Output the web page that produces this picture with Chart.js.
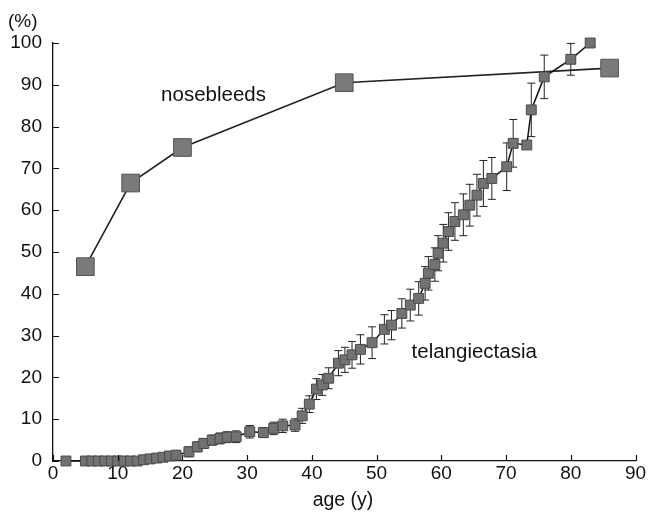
<!DOCTYPE html>
<html><head><meta charset="utf-8">
<script src="https://cdn.jsdelivr.net/npm/chart.js@4.4.0/dist/chart.umd.min.js"></script>
<style>html,body{margin:0;padding:0;background:#fff}</style>
</head><body>
<canvas id="c" width="649" height="513"></canvas>
<script>
// ---- data ----
const xTickValues = [0, 10, 20, 30, 40, 50, 60, 70, 80, 90];
const yTickValues = [0, 10, 20, 30, 40, 50, 60, 70, 80, 90, 100];

const noseAge   = [5, 12, 20, 45, 86];
const noseValue = [46.5, 66.5, 75, 90.5, 94];

const telAge = [2, 5, 6, 7, 8, 9, 10, 11, 12, 13, 14, 15, 16, 17, 18, 19,
  21, 22.3, 23.3, 24.6, 25.8, 26.9, 28.3, 30.4, 32.5, 34.1, 35.5, 37.4, 38.5, 39.6,
  40.7, 41.6, 42.6, 44.1, 45.1, 46.2, 47.5, 49.3, 51.2, 52.3, 53.9, 55.2, 56.5, 57.5,
  58, 59, 59.5, 60.3, 61.1, 62.1, 63.4, 64.4, 65.5, 66.5, 67.8, 70.1, 71.1, 73.2,
  73.9, 75.9, 80, 83];
const telValue = [0, 0, 0, 0, 0, 0, 0, 0, 0, 0, 0.3, 0.5, 0.7, 0.9, 1.2, 1.4,
  2.2, 3.4, 4.2, 5.0, 5.4, 5.7, 5.8, 7.0, 6.8, 7.8, 8.4, 8.6, 10.8, 13.6,
  17.2, 18.2, 19.8, 23.4, 24.2, 25.4, 26.7, 28.3, 31.5, 32.5, 35.3, 37.3, 38.9, 42.5,
  44.9, 47, 49.7, 52.1, 54.9, 57.3, 58.9, 61.2, 63.6, 66.4, 67.6, 70.4, 76, 75.6,
  84, 91.9, 96.1, 100];
const telErr = [0.8, 0.8, 0.8, 0.8, 0.8, 0.8, 0.8, 0.8, 0.8, 0.8, 0.8, 0.8, 0.9, 0.9, 1, 1,
  1.2, 1.2, 1.2, 1.2, 1.3, 1.3, 1.4, 1.5, 1.2, 1.5, 1.6, 1.5, 1.8, 2,
  2.5, 2.5, 2.5, 3, 3, 3.2, 3.5, 3.8, 3.5, 3.5, 3.5, 3.8, 4, 4,
  4, 4, 4.2, 4.5, 4.5, 4.5, 5, 5, 5, 5.5, 5, 5.7, 5.7, 0,
  6.4, 5.2, 3.8, 0];

const yUnitLabel = '(%)';
const xAxisLabel = 'age (y)';
const seriesNames = ['nosebleeds', 'telangiectasia'];
const nameAnchors = [[16.7, 86.2], [55.4, 24.6]]; // data coords of the text labels

// ---- drawing ----
const FONT = '"Liberation Sans", Arial, "Noto Sans CJK JP", sans-serif';
const pts = (xs, ys) => xs.map((v, i) => ({x: v, y: ys[i]}));

const decor = {
  id: 'decor',
  beforeDatasetsDraw(chart) {
    const {ctx, scales: {x, y}} = chart;
    ctx.save();
    ctx.strokeStyle = '#222';
    ctx.lineWidth = 1;
    telAge.forEach((a, i) => {
      const e = telErr[i];
      if (!e) return;
      const px = x.getPixelForValue(a);
      const top = y.getPixelForValue(telValue[i] + e);
      const bot = y.getPixelForValue(Math.max(0, telValue[i] - e));
      ctx.beginPath();
      ctx.moveTo(px, top); ctx.lineTo(px, bot);
      ctx.moveTo(px - 4, top); ctx.lineTo(px + 4, top);
      ctx.moveTo(px - 4, bot); ctx.lineTo(px + 4, bot);
      ctx.stroke();
    });
    ctx.restore();
  },
  afterDraw(chart) {
    const {ctx, scales: {x, y}, chartArea} = chart;
    ctx.save();
    ctx.strokeStyle = '#111';
    ctx.lineWidth = 1.2;
    ctx.beginPath();
    xTickValues.forEach(v => {
      const px = Math.round(x.getPixelForValue(v)) + 0.5;
      ctx.moveTo(px, chartArea.bottom); ctx.lineTo(px, chartArea.bottom - 6);
    });
    yTickValues.forEach(v => {
      const py = Math.round(y.getPixelForValue(v)) + 0.5;
      ctx.moveTo(chartArea.left, py); ctx.lineTo(chartArea.left + 6, py);
    });
    ctx.stroke();
    ctx.fillStyle = '#111';
    ctx.font = '19px ' + FONT;
    ctx.textBaseline = 'alphabetic';
    ctx.textAlign = 'left';
    ctx.fillText(yUnitLabel, 8, 27);
    ctx.textAlign = 'center';
    ctx.font = '19.5px ' + FONT;
    ctx.fillText(xAxisLabel, 343, 506);
    ctx.textAlign = 'left';
    ctx.font = '20.5px ' + FONT;
    seriesNames.forEach((n, i) => {
      ctx.fillText(n, x.getPixelForValue(nameAnchors[i][0]), y.getPixelForValue(nameAnchors[i][1]));
    });
    ctx.restore();
  }
};

new Chart(document.getElementById('c'), {
  type: 'scatter',
  data: {
    datasets: [
      {
        label: seriesNames[0],
        data: pts(noseAge, noseValue),
        showLine: true,
        borderColor: '#222',
        borderWidth: 1.6,
        pointStyle: 'rect',
        pointRadius: 12.5,
        pointBackgroundColor: '#7a7a7a',
        pointBorderColor: '#555',
        pointBorderWidth: 1,
        clip: false,
        order: 2
      },
      {
        label: seriesNames[1],
        data: pts(telAge, telValue),
        showLine: true,
        borderColor: '#111',
        borderWidth: 1.5,
        pointStyle: 'rect',
        pointRadius: 7,
        pointBackgroundColor: '#727272',
        pointBorderColor: '#4a4a4a',
        pointBorderWidth: 1,
        clip: false,
        order: 1
      }
    ]
  },
  options: {
    responsive: false,
    animation: false,
    devicePixelRatio: 1,
    layout: {padding: {top: 43, right: 13, left: 0, bottom: 0}},
    plugins: {legend: {display: false}, tooltip: {enabled: false}},
    scales: {
      x: {
        type: 'linear', min: 0, max: 90,
        afterBuildTicks: s => { s.ticks = xTickValues.map(v => ({value: v})); },
        afterFit: s => { s.height = 52; },
        grid: {display: false, drawTicks: false},
        border: {display: true, color: '#111', width: 1.3},
        ticks: {color: '#111', font: {family: FONT, size: 19}, padding: 1, maxRotation: 0, autoSkip: false}
      },
      y: {
        type: 'linear', min: 0, max: 100,
        afterBuildTicks: s => { s.ticks = yTickValues.map(v => ({value: v})); },
        afterFit: s => { s.width = 53; },
        grid: {display: false, drawTicks: false},
        border: {display: true, color: '#111', width: 1.3},
        ticks: {color: '#111', font: {family: FONT, size: 19}, padding: 11, autoSkip: false}
      }
    }
  },
  plugins: [decor]
});
</script>
</body></html>
